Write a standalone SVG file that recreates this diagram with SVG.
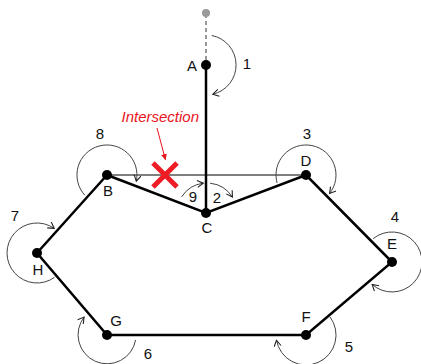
<svg xmlns="http://www.w3.org/2000/svg" width="421" height="364" viewBox="0 0 421 364">
<defs>
<marker id="ah" markerUnits="userSpaceOnUse" markerWidth="10" markerHeight="10" refX="7" refY="4" orient="auto">
<path d="M1,0.5 L7,4 L1,7.5" fill="none" stroke="#222" stroke-width="1.1"/>
</marker>
<marker id="rh" markerUnits="userSpaceOnUse" markerWidth="8" markerHeight="8" refX="6" refY="3" orient="auto">
<path d="M0,0 L6,3 L0,6 Z" fill="#e8141c"/>
</marker>
</defs>
<style>
.edge{stroke:#000;stroke-width:2.5;fill:none}
.thin{stroke:#000;stroke-width:1;fill:none}
.arc{stroke:#444;stroke-width:1;fill:none;marker-end:url(#ah)}
.lbl{font-family:"Liberation Sans",Arial,sans-serif;font-size:15px;fill:#111;text-anchor:middle}
.dot{fill:#000}
</style>
<g id="connectors">
<line x1="206" y1="14" x2="206" y2="65" stroke="#999" stroke-width="2" stroke-dasharray="4,3"/>
<line class="thin" x1="107" y1="175" x2="306" y2="175"/>
<line class="edge" x1="206" y1="65" x2="206" y2="213"/>
<polyline class="edge" points="107,175 206,213 306,175 392,262 306,335 107,335 37,253 107,175"/>
<path class="arc" d="M211.7,35.5 A30,30 0 0 1 212.8,94.2"/>
<path class="arc" d="M84.8,195.2 A30,30 0 1 1 136.3,181.2"/>
<path class="arc" d="M181.7,196.8 A30,30 0 0 1 203.3,183.2"/>
<path class="arc" d="M210.1,183.2 A30,30 0 0 1 232.4,197.1"/>
<path class="arc" d="M277.1,183 A30,30 0 1 1 329.6,193.5"/>
<path class="arc" d="M373.2,238.6 A30,30 0 1 1 372.2,284.5"/>
<path class="arc" d="M329.9,316.8 A30,30 0 1 1 276.5,340.2"/>
<path class="arc" d="M135.6,340 A29,29 0 1 1 84.1,317.1"/>
<path class="arc" d="M54.6,277.3 A30,30 0 1 1 54.2,228.4"/>
<line x1="157" y1="128" x2="165.5" y2="160" stroke="#e8141c" stroke-width="1" marker-end="url(#rh)"/>
</g>
<g id="top"><circle cx="206" cy="13" r="4" fill="#999"/></g>
<g id="A"><circle class="dot" cx="206" cy="65" r="5"/><text class="lbl" x="192" y="70.5">A</text><text class="lbl" x="247" y="68.5">1</text></g>
<g id="B"><circle class="dot" cx="107" cy="175" r="5"/><text class="lbl" x="108" y="195.5">B</text><text class="lbl" x="100" y="138.5">8</text></g>
<g id="C"><circle class="dot" cx="206" cy="213" r="5"/><text class="lbl" x="207" y="233">C</text><text class="lbl" x="193" y="202">9</text><text class="lbl" x="217" y="203">2</text></g>
<g id="D"><circle class="dot" cx="306" cy="175" r="5"/><text class="lbl" x="306" y="166">D</text><text class="lbl" x="307" y="139">3</text></g>
<g id="E"><circle class="dot" cx="392" cy="262" r="5"/><text class="lbl" x="392" y="249">E</text><text class="lbl" x="395" y="221.5">4</text></g>
<g id="F"><circle class="dot" cx="306" cy="335" r="5"/><text class="lbl" x="306" y="322">F</text><text class="lbl" x="349" y="352">5</text></g>
<g id="G"><circle class="dot" cx="107" cy="335" r="5"/><text class="lbl" x="116" y="325.5">G</text><text class="lbl" x="148" y="359">6</text></g>
<g id="H"><circle class="dot" cx="37" cy="253" r="5"/><text class="lbl" x="38" y="275">H</text><text class="lbl" x="15" y="220.5">7</text></g>
<g id="intersection">
<text x="121.5" y="121.5" font-family="Liberation Sans, Arial, sans-serif" font-size="15" font-style="italic" fill="#e8141c">Intersection</text>
<path d="M153,163 L177,187 M177,163 L153,187" stroke="#ee1c24" stroke-width="5" fill="none"/>
</g>
</svg>
